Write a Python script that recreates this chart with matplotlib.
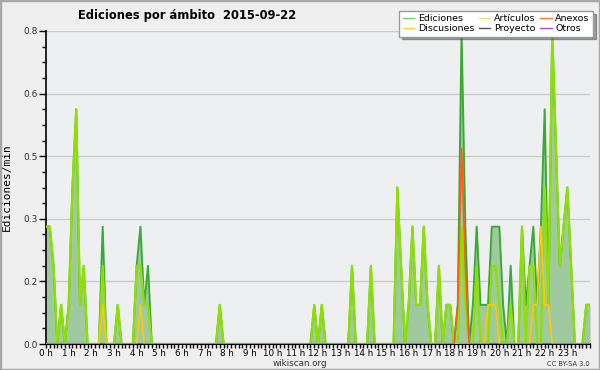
import matplotlib
matplotlib.use("Agg")
import matplotlib.pyplot as plt
from matplotlib.lines import Line2D
from matplotlib.patches import Rectangle
import numpy as np

# 10-minute bins, 0h .. 24h (edits per minute)
ediciones = [0.3, 0.3, 0.2, 0, 0.1, 0, 0.1, 0.4, 0.6, 0.1, 0.2, 0, 0, 0, 0, 0.3, 0, 0, 0, 0.1,
             0, 0, 0, 0, 0.2, 0.3, 0.1, 0.2, 0, 0, 0, 0, 0, 0, 0, 0, 0, 0, 0, 0,
             0, 0, 0, 0, 0, 0, 0.1, 0, 0, 0, 0, 0, 0, 0, 0, 0, 0, 0, 0, 0,
             0, 0, 0, 0, 0, 0, 0, 0, 0, 0, 0, 0.1, 0, 0.1, 0, 0, 0, 0, 0, 0,
             0, 0.2, 0, 0, 0, 0, 0.2, 0, 0, 0, 0, 0, 0, 0.4, 0.2, 0, 0.1, 0.3, 0.1, 0.1,
             0.3, 0.1, 0, 0, 0.2, 0, 0.1, 0.1, 0, 0.1, 0.8, 0.3, 0, 0.1, 0.3, 0.1, 0.1, 0.1, 0.3, 0.3,
             0.3, 0.1, 0, 0.2, 0, 0, 0.3, 0.1, 0.2, 0.3, 0.1, 0.3, 0.6, 0.1, 0.8, 0.5, 0.2, 0.3, 0.4, 0.2,
             0, 0, 0, 0.1, 0.1]
articulos = [0.3, 0.3, 0.2, 0, 0.1, 0, 0.1, 0.4, 0.6, 0.1, 0.2, 0, 0, 0, 0, 0.2, 0, 0, 0, 0.1,
             0, 0, 0, 0, 0.2, 0.2, 0.1, 0.1, 0, 0, 0, 0, 0, 0, 0, 0, 0, 0, 0, 0,
             0, 0, 0, 0, 0, 0, 0.1, 0, 0, 0, 0, 0, 0, 0, 0, 0, 0, 0, 0, 0,
             0, 0, 0, 0, 0, 0, 0, 0, 0, 0, 0, 0.1, 0, 0.1, 0, 0, 0, 0, 0, 0,
             0, 0.2, 0, 0, 0, 0, 0.2, 0, 0, 0, 0, 0, 0, 0.4, 0.2, 0, 0.1, 0.3, 0.1, 0.1,
             0.3, 0.1, 0, 0, 0.2, 0, 0.1, 0.1, 0, 0, 0.3, 0.1, 0, 0, 0.2, 0, 0, 0, 0.2, 0.2,
             0.1, 0, 0, 0.1, 0, 0, 0.3, 0, 0.2, 0.2, 0, 0, 0.4, 0.1, 0.8, 0.5, 0.2, 0.3, 0.4, 0.2,
             0, 0, 0, 0.1, 0.1]
discusiones = [0] * 15 + [0.1] + [0] * 9 + [0.1] + [0] * 91 + [0.1, 0.1, 0.1] + [0] * 9 + \
              [0.1, 0.1, 0.3, 0.1, 0.1] + [0] * 11
anexos = [0] * 109 + [0.1, 0.5, 0.2] + [0] * 33
proyecto = [0] * 145
otros = [0] * 145

hour_labels = ["%d h" % h for h in range(24)]
y_ticks = [0.0, 0.16, 0.32, 0.48, 0.64, 0.8]
y_labels = ["0.0", "0.2", "0.3", "0.5", "0.6", "0.8"]

minutes = np.arange(len(ediciones)) * 10

W, H = 600, 370
fig = plt.figure(figsize=(W / 100, H / 100), dpi=100, facecolor="#efefef")
fig.patches.append(Rectangle((0, 0), 1, 1, transform=fig.transFigure, fill=False,
                             edgecolor="#a8a8a8", linewidth=2.5))
ax = fig.add_axes([46 / W, (H - 344) / H, 544 / W, 313 / H])
ax.set_facecolor("#eeeff1")

ax.fill_between(minutes, ediciones, color="#9fc99f", linewidth=0, zorder=2)
ax.plot(minutes, ediciones, color="#3aaa35", lw=1.4, zorder=3)
ax.plot(minutes, articulos, color="#8fe000", lw=1.6, zorder=4)
ax.plot(minutes, discusiones, color="#ffc800", lw=1.2, zorder=5)
ax.plot(minutes, anexos, color="#ff5a1a", lw=1.2, zorder=6)

ax.set_xlim(0, 1440)
ax.set_ylim(0, 0.8)
ax.set_yticks(y_ticks)
ax.set_yticklabels(y_labels)
ax.set_yticks(np.arange(0, 0.801, 0.04), minor=True)
ax.set_xticks(np.arange(24) * 60)
ax.set_xticklabels(hour_labels)
ax.set_xticks(np.arange(0, 1441, 10), minor=True)
ax.grid(axis="y", which="major", color="#cbcbcb", lw=1, zorder=1)
ax.set_axisbelow(True)
for s in ("top", "right"):
    ax.spines[s].set_visible(False)
ax.spines["left"].set_linewidth(1.2)
ax.spines["bottom"].set_linewidth(1.5)
ax.tick_params(axis="y", which="major", length=5, width=1, labelsize=6.5, pad=1, colors="black")
ax.tick_params(axis="y", which="minor", length=3, width=1)
ax.tick_params(axis="x", which="both", length=3, width=1, labelsize=6.3, pad=0.5)
for t in ax.get_yticklabels():
    t.set_color("#333333")

ax.set_ylabel("Ediciones/min", family="DejaVu Sans Mono", fontsize=8, labelpad=8)

fig.text(187 / W, 1 - 15 / H, "Ediciones por ámbito  2015-09-22", ha="center", va="center",
         fontsize=8.3, fontweight="bold")
fig.text(300 / W, 1 - 363 / H, "wikiscan.org", ha="center", va="center", fontsize=6.3, color="#333333")
fig.text(590 / W, 1 - 363.5 / H, "CC BY-SA 3.0", ha="right", va="center", fontsize=4.8, color="#333333")

handles = [
    Line2D([], [], color="#77cc77", lw=1), Line2D([], [], color="#ffcc44", lw=1),
    Line2D([], [], color="#ccee77", lw=1), Line2D([], [], color="#555555", lw=1),
    Line2D([], [], color="#ff7744", lw=1), Line2D([], [], color="#9955ee", lw=1),
]
labels = ["Ediciones", "Discusiones", "Artículos", "Proyecto", "Anexos", "Otros"]
leg = fig.legend(handles, labels, ncol=3, loc="upper right", bbox_to_anchor=(593 / W, 1 - 11 / H),
                 fontsize=6.8, frameon=True, fancybox=False, shadow=True, handlelength=1.2,
                 handletextpad=0.4, columnspacing=0.5, labelspacing=0.1, borderpad=0.35,
                 borderaxespad=0)
leg.get_frame().set_edgecolor("#999999")
leg.get_frame().set_facecolor("white")

fig.savefig("out.png", dpi=100, facecolor=fig.get_facecolor())
